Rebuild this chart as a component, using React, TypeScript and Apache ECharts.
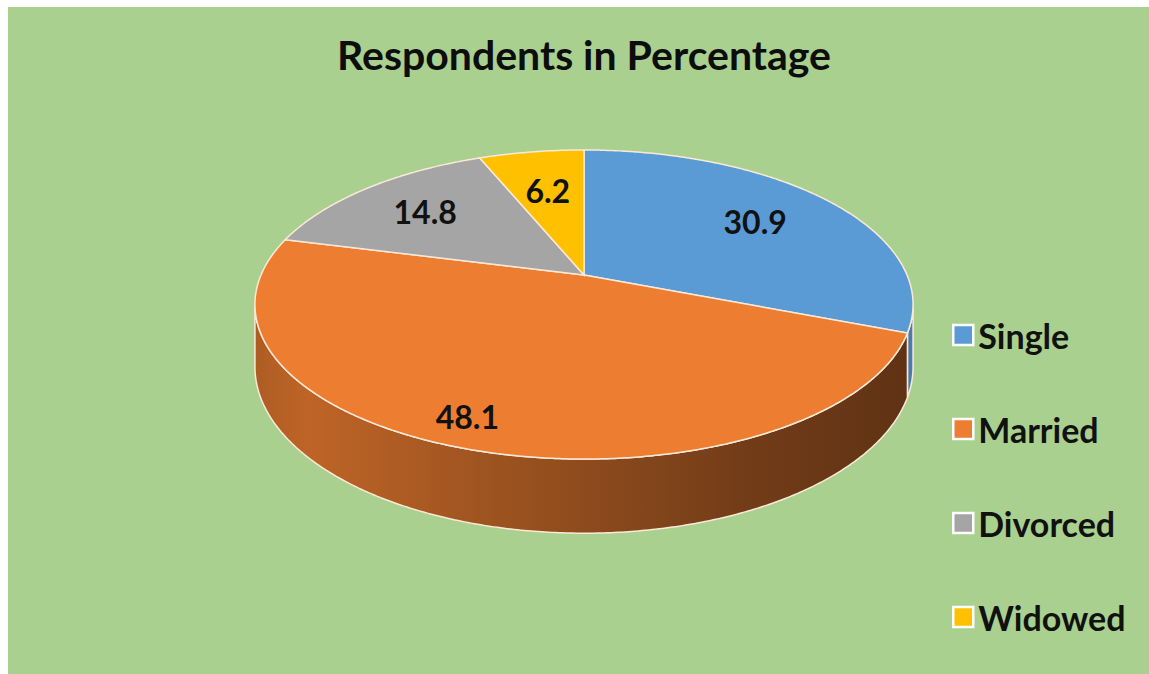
import React, { useEffect, useRef } from "react";
import * as echarts from "echarts";

// Marital status of respondents (percent)
const categories = ["Single", "Married", "Divorced", "Widowed"];
const shares = [30.9, 48.1, 14.8, 6.2];
const sliceColors = ["#5b9bd5", "#ed7d31", "#a5a5a5", "#ffc000"];
const titleText = "Respondents in Percentage";

// Tilted-disc geometry, in chart pixels
const DISC = { cx: 576, cy: 268, rx: 323, ry: 148.9, persp: 0.191, depth: 60 };
// radial position of each value label (fraction of the radius)
const LABEL_RADIUS = [0.69, 0.86, 0.71, 0.65];
// side-wall shading (left / right darkening factor) per slice
const WALL_SHADE = [
  [0.85, 0.8],
  [0.8, 0.4],
  [0.7, 0.4],
  [0.7, 0.4],
];
const EDGE = "#fbe9d7";
const FONT = "Lato";

const total = shares.reduce((s, v) => s + v, 0);
const starts: number[] = [];
shares.reduce((acc, v) => {
  starts.push((acc / total) * 360);
  return acc + v;
}, 0);

// angle measured clockwise from 12 o'clock, r as fraction of radius
function project(alphaDeg: number, r: number, drop = 0): number[] {
  const t = ((90 - alphaDeg) * Math.PI) / 180;
  const X = r * Math.cos(t);
  const Z = r * Math.sin(t);
  const s = 1 / (1 + DISC.persp * Z);
  return [DISC.cx + DISC.rx * X * s, DISC.cy + (-DISC.ry * Z + drop) * s];
}

function arcPoints(a0: number, a1: number, drop = 0): number[][] {
  const n = Math.max(2, Math.ceil(Math.abs(a1 - a0) / 0.5));
  const pts: number[][] = [];
  for (let i = 0; i <= n; i++) pts.push(project(a0 + ((a1 - a0) * i) / n, 1, drop));
  return pts;
}

function shade(hex: string, f: number): string {
  const n = parseInt(hex.slice(1), 16);
  const r = Math.round(((n >> 16) & 255) * f);
  const g = Math.round(((n >> 8) & 255) * f);
  const b = Math.round((n & 255) * f);
  return `rgb(${r},${g},${b})`;
}

const silhouette = (Math.asin(DISC.persp) * 180) / Math.PI;
const wallLo = 90 + silhouette;
const wallHi = 270 - silhouette;

function wallFill(i: number) {
  const [l, r] = WALL_SHADE[i];
  const c = sliceColors[i];
  const left = DISC.cx - DISC.rx * 1.02;
  const right = DISC.cx + DISC.rx * 1.02;
  return new echarts.graphic.LinearGradient(
    left,
    0,
    right,
    0,
    [
      { offset: 0, color: shade(c, l * 0.92) },
      { offset: 0.08, color: shade(c, l) },
      { offset: 0.45, color: shade(c, l - (l - r) * 0.45) },
      { offset: 0.75, color: shade(c, l - (l - r) * 0.8) },
      { offset: 1, color: shade(c, r) },
    ],
    true
  );
}

function sliceSeries(i: number) {
  return {
    type: "custom",
    name: categories[i],
    coordinateSystem: "none",
    silent: true,
    data: [shares[i]],
    itemStyle: { color: sliceColors[i] },
    renderItem: (_params: any, api: any) => {
      const value = api.value(0) as number;
      const a0 = starts[i];
      const a1 = a0 + (value / total) * 360;
      const children: any[] = [];
      const w0 = Math.max(a0, wallLo);
      const w1 = Math.min(a1, wallHi);
      if (w1 > w0) {
        const top = arcPoints(w0, w1, 0);
        const bottom = arcPoints(w0, w1, DISC.depth).reverse();
        children.push({
          type: "polygon",
          shape: { points: top.concat(bottom) },
          style: { fill: wallFill(i), stroke: EDGE, lineWidth: 1.5 },
        });
      }
      children.push({
        type: "polygon",
        shape: { points: [project(0, 0)].concat(arcPoints(a0, a1, 0)) },
        style: { fill: sliceColors[i], stroke: EDGE, lineWidth: 1.5 },
      });
      const [lx, ly] = project((a0 + a1) / 2 + (i === 1 ? 3 : 0), LABEL_RADIUS[i]);
      children.push({
        type: "text",
        style: {
          text: value.toFixed(1),
          x: lx,
          y: ly,
          fill: "#111",
          font: `bold 32px ${FONT}`,
          align: "center",
          verticalAlign: "middle",
        },
      });
      return { type: "group", children };
    },
  };
}

export default function App() {
  const ref = useRef<HTMLDivElement>(null);

  useEffect(() => {
    if (!ref.current) return;
    const chart = echarts.init(ref.current, null, { renderer: "svg" });
    chart.setOption({
      animation: false,
      backgroundColor: "#a9d08e",
      title: {
        text: titleText,
        left: 571,
        textAlign: "center",
        top: 22,
        textStyle: { fontFamily: FONT, fontWeight: "bold", fontSize: 41, color: "#0d0d0d" },
      },
      legend: {
        orient: "vertical",
        left: 939,
        top: 305,
        itemWidth: 20,
        itemHeight: 20,
        itemGap: 58,
        icon: "rect",
        selectedMode: false,
        itemStyle: { borderColor: "#ffffff", borderWidth: 2.5 },
        textStyle: { fontFamily: FONT, fontWeight: "bold", fontSize: 34, color: "#111", lineHeight: 36 },
        data: categories,
      },
      series: categories.map((_, i) => sliceSeries(i)),
    });
    return () => chart.dispose();
  }, []);

  return (
    <div style={{ position: "fixed", left: 0, top: 0, width: "100vw", height: "100vh", background: "#fff" }}>
      <div ref={ref} style={{ position: "absolute", left: 8, top: 7, width: 1141, height: 667 }} />
    </div>
  );
}
